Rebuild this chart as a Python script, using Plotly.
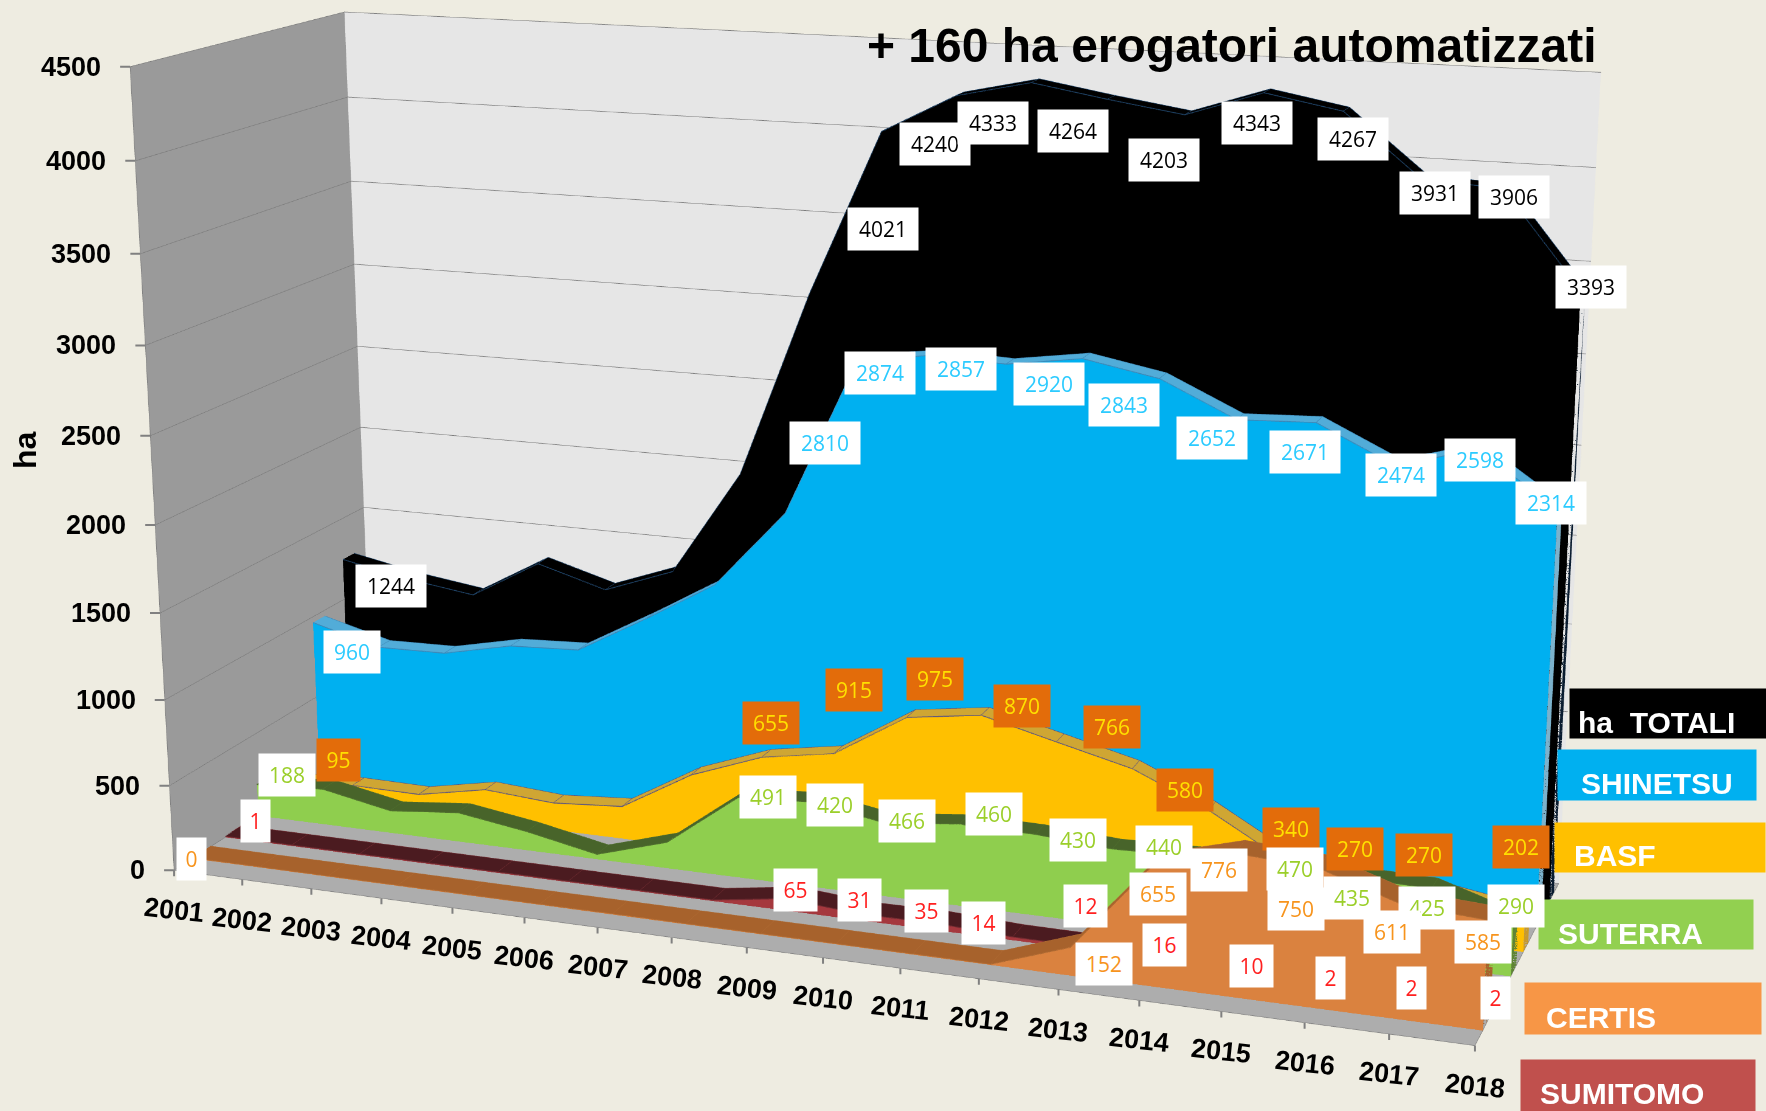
import plotly.graph_objects as go

years = list(range(2001, 2019))
totali = [1244,1163,1106,1340,1222,1374,1996,3080,4021,4240,4333,4264,4203,4343,4267,3931,3906,3393]
shinetsu = [960,851,859,948,968,1200,1445,1903,2810,2874,2857,2920,2843,2652,2671,2474,2598,2314]
basf = [95,115,110,190,160,190,430,585,655,915,975,870,766,580,340,270,270,202]
suterra = [188,210,130,170,108,25,150,465,491,420,466,460,430,440,470,435,425,290]
certis = [0,0,0,0,0,0,0,0,0,0,0,0,152,655,776,750,611,585]
sumitomo = [1,1,1,1,1,1,1,1,65,31,35,14,12,16,10,2,2,2]
z_ticks = [0,500,1000,1500,2000,2500,3000,3500,4000,4500]

W, H, OFFX, OFFY = 4000, 3066, 1117, 978
PAGE = "#EEECE1"
FONT = "Open Sans"
BOLD = "Liberation Sans"
LABEL_DEPTH, LIFT = 0.42, 5

# depth slot, depth start, depth width, values, front, top, side, edge, label years, label offsets, label colours
LAB = [2001] + list(range(2009, 2019))
series = [
 ("ha TOTALI", 5, 5.27, 0.36, totali, "#000000", "#000000", "#0A1C30", "#1F4468", LAB,
  [44,-2,-24,-42,-38,-24,-10,7,11,9,8], [-28,-98,-49,-41,-32,-46,-31,-28,-15,-9,3], "#000000", "#FFFFFF"),
 ("SHINETSU", 4, 4.27, 0.36, shinetsu, "#00B0F0", "#52ACD8", "#7CB2CC", "#3D86B5", LAB,
  [34,-36,-55,-49,-37,-38,-28,-14,3,0,-8], [-31,-83,-19,-6,-27,-28,-20,-31,-11,-12,4], "#2CCBFF", "#FFFFFF"),
 ("BASF", 3, 3.30, 0.36, basf, "#FFC000", "#CFA633", "#C89A2C", "#5A5480", LAB,
  [47,-66,-56,-49,-37,-23,-26,3,-11,-22,-6], [19,29,26,35,34,40,18,31,32,36,66], "#FFE000", "#E36C0A"),
 ("SUTERRA", 2, 2.40, 0.40, suterra, "#8FCE4E", "#48642A", "#5E8434", "#4F6E2E", LAB,
  [29,-43,-50,-53,-42,-35,-27,25,1,-5,2], [10,5,18,4,21,9,10,-8,-21,-19,18], "#9BCF2A", "#FFFFFF"),
 ("SUMITOMO", 1, 1.43, 0.47, sumitomo, "#A5383E", "#4B1B20", "#4B1B20", "#6E2A30", LAB,
  [31,10,-1,-9,-29,-5,-5,2,0,-1,-1], [16,10,15,13,15,43,13,4,4,5,6], "#FF2020", "#FFFFFF"),
 ("CERTIS", 0, 0.50, 0.50, certis, "#DA823F", "#A7622C", "#A7622C", "#AE6A32", [2001,2013,2014,2015,2016,2017,2018],
  [2,36,7,-15,-21,-9,-4], [1,-14,-25,-14,-38,-24,-19], "#F7941D", "#FFFFFF"),
]

legend_boxes = [
 ("ha  TOTALI", "#000000", 1569, 1766, 688, 737, 1576, 722),
 ("SHINETSU", "#00B0F0", 1557, 1755, 749, 799, 1579, 783),
 ("BASF", "#FFC000", 1554, 1764, 822, 871, 1572, 855),
 ("SUTERRA", "#92D050", 1538, 1752, 899, 948, 1556, 933),
 ("CERTIS", "#F79646", 1524, 1760, 982, 1033, 1544, 1017),
 ("SUMITOMO", "#C0504D", 1520, 1754, 1059, 1111, 1538, 1093),
]


def px(x):
    return (x + OFFX) / W


def py(y):
    return 1 - (y + OFFY) / H


def ribbon(values, y0, width, front, top, side):
    n = len(years)
    y1 = y0 + width
    xs, ys, zs, I, J, K, colors = [], [], [], [], [], [], []
    for yr, v in zip(years, values):
        h = v + LIFT
        xs += [yr, yr, yr, yr]
        ys += [y0, y0, y1, y1]
        zs += [0, h, h, 0]
    for k in range(n - 1):
        a = 4 * k
        b = a + 4
        for p, q, r, c in [(a, b, b + 1, front), (a, b + 1, a + 1, front),
                           (a + 1, b + 1, b + 2, top), (a + 1, b + 2, a + 2, top)]:
            I.append(p); J.append(q); K.append(r); colors.append(c)
    a = 4 * (n - 1)
    for p, q, r in [(a, a + 3, a + 2), (a, a + 2, a + 1)]:
        I.append(p); J.append(q); K.append(r); colors.append(side)
    return go.Mesh3d(x=xs, y=ys, z=zs, i=I, j=J, k=K, facecolor=colors, flatshading=True,
                     lighting=dict(ambient=1, diffuse=0, specular=0, fresnel=0, roughness=1),
                     lightposition=dict(x=0, y=0, z=1000), hoverinfo="skip", showlegend=False, name="")


def edges(values, y0, width, color):
    y1 = y0 + width
    xs = years + [None] + years
    ys = [y0] * len(years) + [None] + [y1] * len(years)
    zs = [v + LIFT for v in values] + [None] + [v + LIFT for v in values]
    for yr, v in zip(years, values):
        xs += [None, yr, yr]
        ys += [None, y0, y1]
        zs += [None, v + LIFT, v + LIFT]
    return go.Scatter3d(x=xs, y=ys, z=zs, mode="lines", line=dict(color=color, width=1.5),
                        hoverinfo="skip", showlegend=False, connectgaps=False)


fig = go.Figure()
scene_ann = []
TICK = dict(text=" ", showarrow=True, arrowhead=0, arrowwidth=2, arrowcolor="#808080", standoff=0,
            font=dict(size=4))
for yr in years:
    scene_ann.append(dict(x=yr, y=0, z=0, ax=0, ay=10, **TICK))
for t in z_ticks:
    scene_ann.append(dict(x=2001, y=0, z=t, ax=-12, ay=0, **TICK))
for name, slot, y0, width, vals, front, top, side, edge, lab_years, dxs, dys, txt, bg in series:
    fig.add_trace(ribbon(vals, y0, width, front, top, side))
    fig.add_trace(edges(vals, y0, width, edge))
    for yr, dx, dy in zip(lab_years, dxs, dys):
        v = vals[years.index(yr)]
        s = str(v)
        scene_ann.append(dict(x=yr, y=slot + LABEL_DEPTH, z=v, text=s, showarrow=False,
                              font=dict(family=FONT, size=21, color=txt), bgcolor=bg,
                              width={1: 27, 2: 41, 3: 54, 4: 68}[len(s)], height=40,
                              xshift=dx, yshift=dy, xanchor="center", yanchor="middle"))
for yr in years:
    scene_ann.append(dict(x=yr, y=0, z=0, text=str(yr), showarrow=False, textangle=6,
                          font=dict(family=BOLD, size=27, color="#000000", weight="bold"), yshift=-40,
                          xanchor="center", yanchor="middle"))
for t in z_ticks:
    scene_ann.append(dict(x=2001, y=0, z=t, text=str(t), showarrow=False,
                          font=dict(family=BOLD, size=27, color="#000000", weight="bold"), xshift=-27,
                          xanchor="right", yanchor="middle"))

paper_ann = [dict(xref="paper", yref="paper", x=px(865), y=py(45), xanchor="left", yanchor="middle",
                  text="+ 160 ha erogatori automatizzati", showarrow=False,
                  font=dict(family=BOLD, size=48, color="#000000", weight="bold")),
             dict(xref="paper", yref="paper", x=px(25), y=py(450), xanchor="center", yanchor="middle",
                  text="ha", textangle=-90, showarrow=False,
                  font=dict(family=BOLD, size=32, color="#000000", weight="bold"))]
for label, color, x0, x1, y0, y1, tx, ty in legend_boxes:
    paper_ann.append(dict(xref="paper", yref="paper", x=px(x0), y=py(y0), xanchor="left", yanchor="top",
                          text=" ", showarrow=False, bgcolor=color, width=x1 - x0, height=y1 - y0,
                          borderpad=0, font=dict(size=10)))
for label, color, x0, x1, y0, y1, tx, ty in legend_boxes:
    paper_ann.append(dict(xref="paper", yref="paper", x=px(tx), y=py(ty), xanchor="left", yanchor="middle",
                          text=label, showarrow=False,
                          font=dict(family=BOLD, size=30, color="#FFFFFF", weight="bold")))

common = dict(showspikes=False, title=dict(text=""), zeroline=False)
fig.update_layout(
    width=W, height=H, autosize=False, margin=dict(l=0, r=0, t=0, b=0, pad=0),
    paper_bgcolor=PAGE, showlegend=False, annotations=paper_ann,
    scene=dict(
        domain=dict(x=[0, 1], y=[0, 1]), aspectmode="manual",
        aspectratio=dict(x=1.5605, y=0.5121, z=0.9587),
        camera=dict(eye=dict(x=1.4151, y=-3.8735, z=1.0665), center=dict(x=0.0402, y=-0.0415, z=-0.0684),
                    up=dict(x=-0.0008, y=-0.002, z=1), projection=dict(type="perspective")),
        bgcolor="rgba(0,0,0,0)",
        xaxis=dict(range=[2001, 2018], tickvals=years, showticklabels=False, ticks="", showgrid=False,
                   showline=True, linecolor="#808080",
                   showbackground=True, backgroundcolor="#9A9A9A", **common),
        yaxis=dict(range=[0, 6], tickvals=[], showticklabels=False, showgrid=False, showline=True,
                   linecolor="#808080", showbackground=True, backgroundcolor="#E6E6E6", **common),
        zaxis=dict(range=[0, 4500], tickvals=z_ticks, showticklabels=False, ticks="",
                   showgrid=True, gridcolor="#7C7C7C", gridwidth=1, showline=True,
                   linecolor="#808080", showbackground=True, backgroundcolor="#ADADAD", **common),
        annotations=scene_ann,
    ),
)

shift = f"""
document.documentElement.style.overflow='hidden';
document.documentElement.style.background='{PAGE}';
document.body.style.margin='0';
document.body.style.overflow='hidden';
var gd=document.getElementById('{{plot_id}}');
gd.style.position='absolute';
gd.style.left='-{OFFX}px';
gd.style.top='-{OFFY}px';
"""
fig.write_html("out.html", post_script=shift, config=dict(displayModeBar=False))
